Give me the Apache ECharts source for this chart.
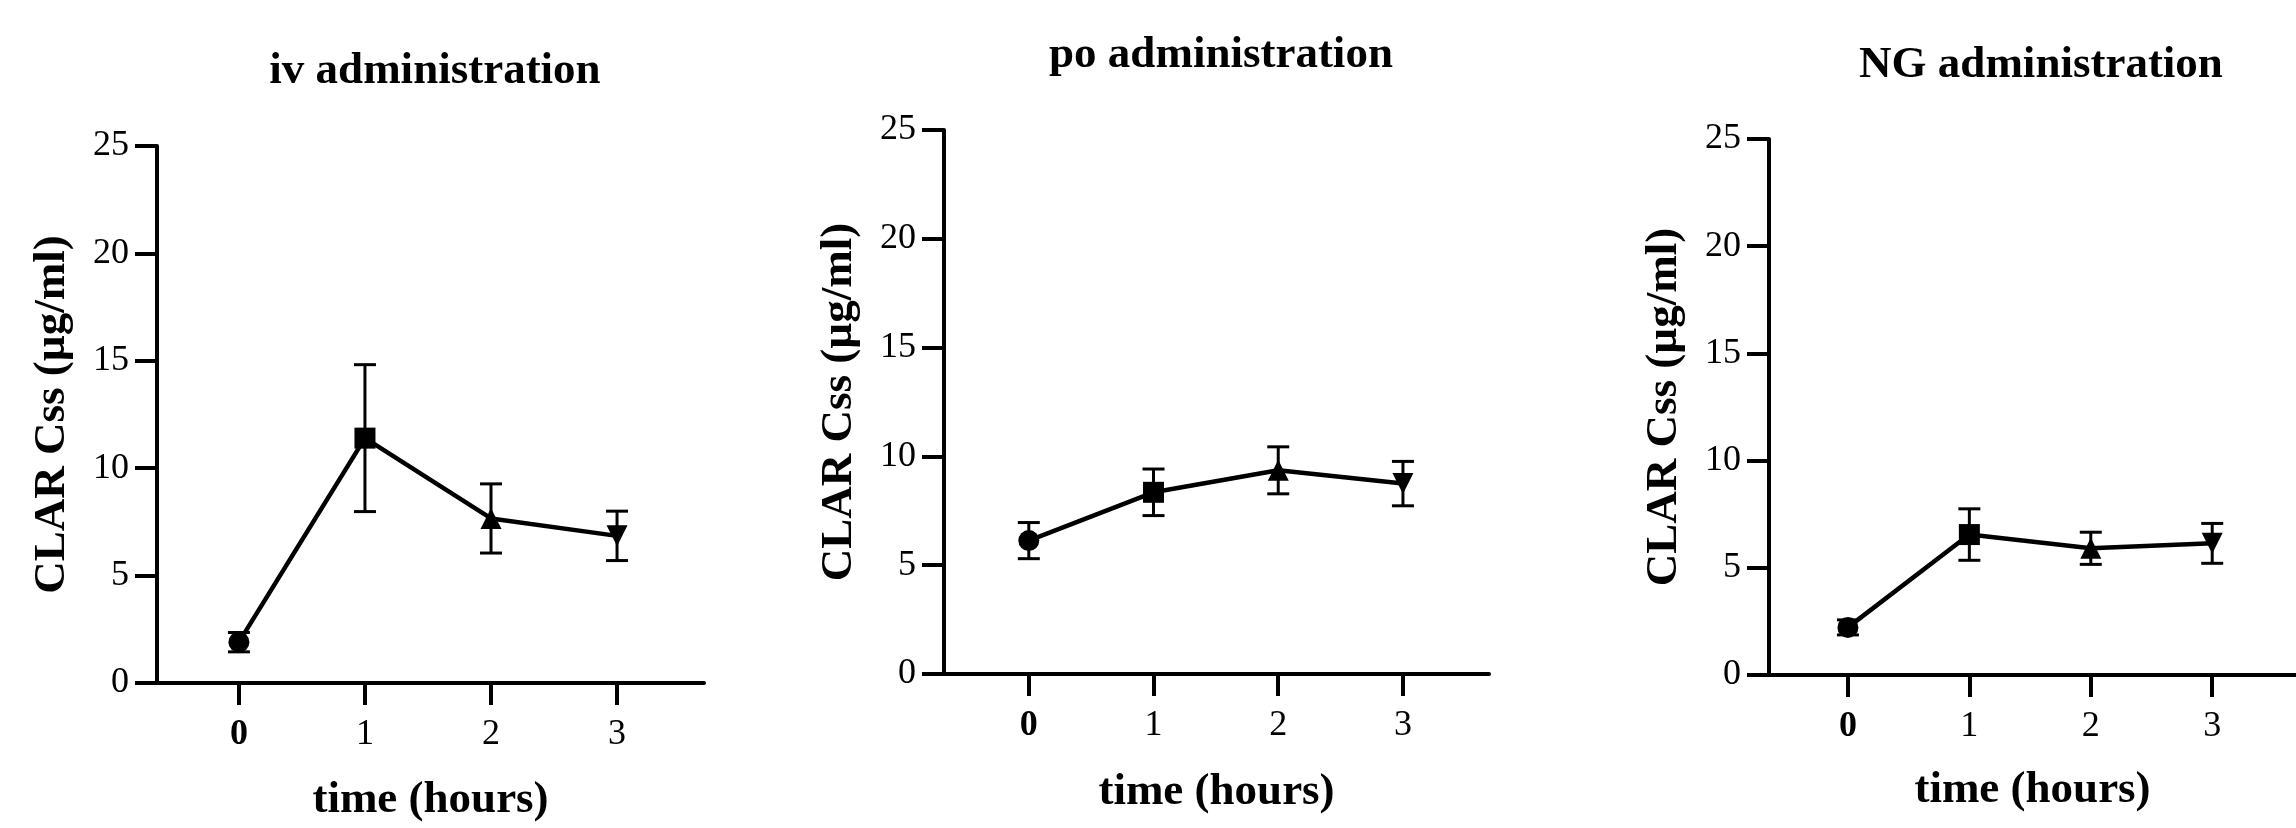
<!DOCTYPE html>
<html>
<head>
<meta charset="utf-8">
<script src="https://cdn.jsdelivr.net/npm/echarts@6/dist/echarts.min.js"></script>
<style>
  html, body { margin: 0; padding: 0; background: #fff; }
  #chart { width: 2296px; height: 828px; }
</style>
</head>
<body>
<div id="chart"></div>
<script>
'use strict';
/* CLAR Css by route of administration */

// data (mean +/- SD)
var hours = [0, 1, 2, 3];
var ivMean = [1.9, 11.4, 7.66, 6.85];
var ivSd = [0.45, 3.42, 1.61, 1.15];
var poMean = [6.13, 8.35, 9.36, 8.75];
var poSd = [0.83, 1.07, 1.08, 1.02];
var ngMean = [2.22, 6.55, 5.91, 6.14];
var ngSd = [0.35, 1.2, 0.75, 0.93];
var titles = ['iv administration', 'po administration', 'NG administration'];
var yMin = 0, yMax = 25, yStep = 5;

// one marker shape per time point
var markerShapes = ['circle', 'rect', 'triangle', 'triangle'];
var markerRotate = [0, 0, 0, 180];

var FONT = '"Liberation Serif", "Times New Roman", serif';

// panel layout
var panels = [
  { left: 157, top: 146, width: 547, height: 544, xMin: -0.65, xMax: 3.69, titleX: 430, titleTop: 44, nameGap: 95, mean: ivMean, sd: ivSd },
  { left: 944, top: 130, width: 545, height: 544, xMin: -0.68, xMax: 3.69, titleX: 1216, titleTop: 28, nameGap: 96, mean: poMean, sd: poSd },
  { left: 1769, top: 139, width: 538, height: 536, xMin: -0.65, xMax: 3.69, titleX: 2036, titleTop: 38, nameGap: 93, mean: ngMean, sd: ngSd }
];

function errorBarItem(params, api) {
  var x = api.value(0);
  var top = api.coord([x, api.value(2)]);
  var bot = api.coord([x, api.value(1)]);
  var half = 11;
  var style = { stroke: '#000', lineWidth: 3 };
  return {
    type: 'group',
    children: [
      { type: 'line', shape: { x1: top[0], y1: top[1], x2: bot[0], y2: bot[1] }, style: style },
      { type: 'line', shape: { x1: top[0] - half, y1: top[1], x2: top[0] + half, y2: top[1] }, style: style },
      { type: 'line', shape: { x1: bot[0] - half, y1: bot[1], x2: bot[0] + half, y2: bot[1] }, style: style }
    ]
  };
}

var chart = echarts.init(document.getElementById('chart'), null, { renderer: 'canvas' });

var option = {
  backgroundColor: '#fff',
  animation: false,
  title: [],
  grid: [],
  xAxis: [],
  yAxis: [],
  series: []
};

panels.forEach(function(p, i) {
  option.title.push({
    text: titles[i],
    left: p.titleX,
    top: p.titleTop,
    textAlign: 'center',
    textStyle: { fontFamily: FONT, fontSize: 45, fontWeight: 'bold', color: '#000' }
  });

  option.grid.push({ left: p.left, top: p.top, width: p.width, height: p.height, containLabel: false });

  option.xAxis.push({
    type: 'value',
    gridIndex: i,
    min: p.xMin,
    max: p.xMax,
    name: 'time (hours)',
    nameLocation: 'middle',
    nameGap: p.nameGap,
    nameTextStyle: { fontFamily: FONT, fontSize: 45, fontWeight: 'bold', color: '#000' },
    splitLine: { show: false },
    axisLine: { show: true, onZero: false, lineStyle: { color: '#000', width: 4 } },
    axisTick: { show: true, length: 22, customValues: hours, lineStyle: { color: '#000', width: 4 } },
    axisLabel: {
      customValues: hours,
      margin: 34,
      fontFamily: FONT,
      fontSize: 36,
      color: '#000',
      formatter: function(v) { return v === 0 ? '{b|0}' : String(v); },
      rich: { b: { fontFamily: FONT, fontSize: 36, fontWeight: 'bold', color: '#000' } }
    }
  });

  option.yAxis.push({
    type: 'value',
    gridIndex: i,
    min: yMin,
    max: yMax,
    interval: yStep,
    name: 'CLAR Css (µg/ml)',
    nameLocation: 'middle',
    nameGap: 82,
    nameTextStyle: { fontFamily: FONT, fontSize: 45, fontWeight: 'bold', color: '#000' },
    splitLine: { show: false },
    axisLine: { show: true, onZero: false, lineStyle: { color: '#000', width: 4 } },
    axisTick: { show: true, length: 22, lineStyle: { color: '#000', width: 4 } },
    axisLabel: { margin: 28, fontFamily: FONT, fontSize: 36, color: '#000' }
  });

  option.series.push({
    type: 'custom',
    xAxisIndex: i,
    yAxisIndex: i,
    renderItem: errorBarItem,
    encode: { x: 0, y: [1, 2] },
    data: hours.map(function(t, k) { return [t, p.mean[k] - p.sd[k], p.mean[k] + p.sd[k]]; }),
    z: 2,
    silent: true
  });

  option.series.push({
    type: 'line',
    xAxisIndex: i,
    yAxisIndex: i,
    symbolSize: 21,
    itemStyle: { color: '#000' },
    lineStyle: { color: '#000', width: 4.5 },
    data: hours.map(function(t, k) {
      return { value: [t, p.mean[k]], symbol: markerShapes[k], symbolRotate: markerRotate[k] };
    }),
    z: 3,
    silent: true
  });
});

chart.setOption(option);
</script>
</body>
</html>
